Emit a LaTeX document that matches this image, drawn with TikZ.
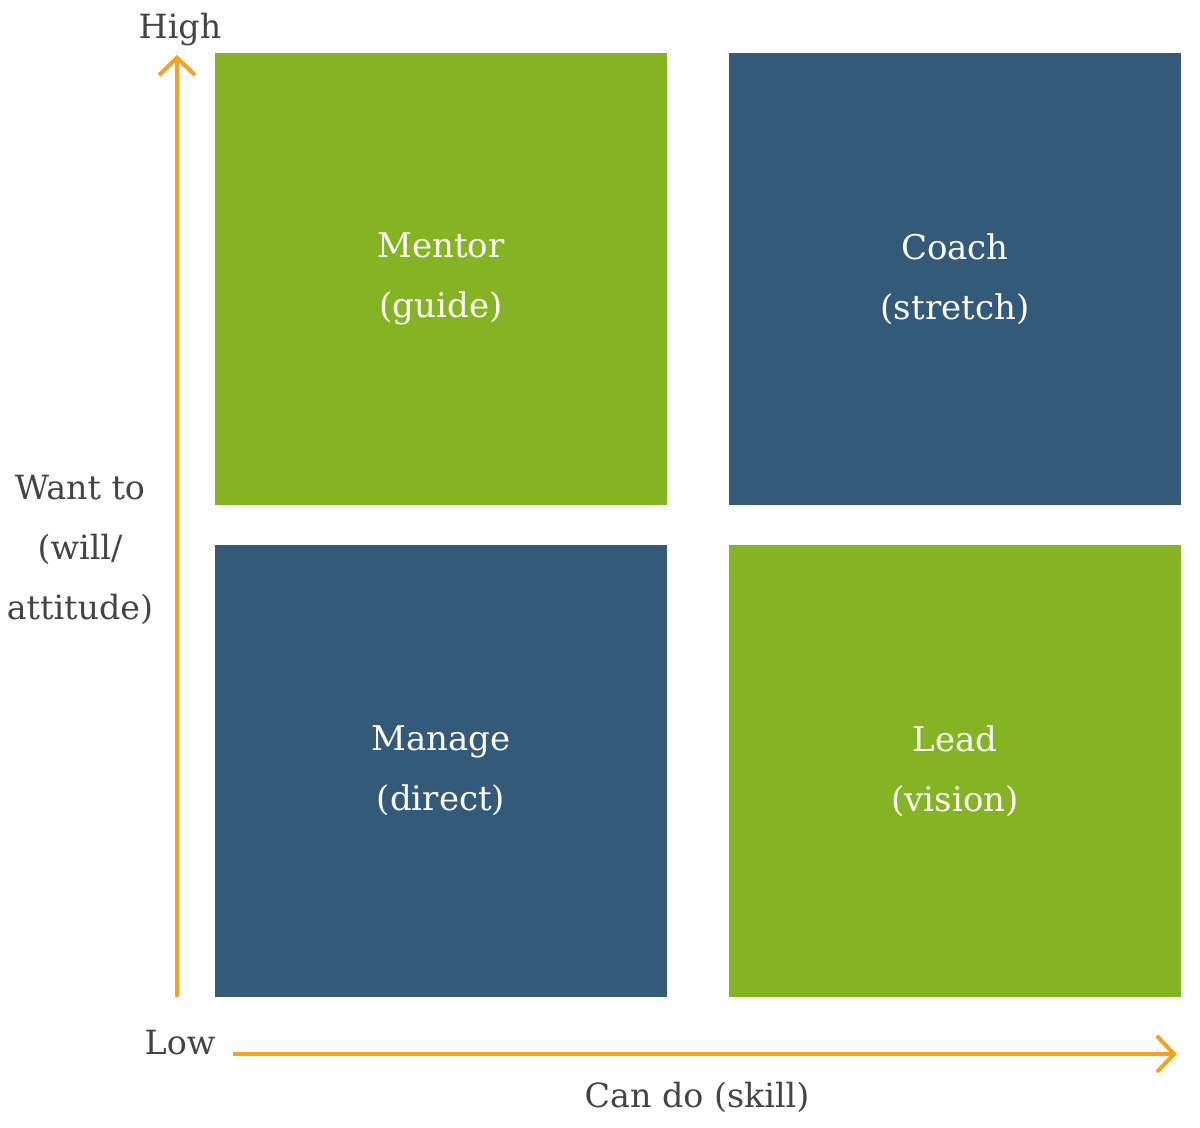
\documentclass[tikz,border=0pt]{standalone}
\usepackage{fontspec}
\setmainfont{DejaVu Serif}
\usetikzlibrary{arrows.meta}
\definecolor{qgreen}{RGB}{132,180,34}
\definecolor{qblue}{RGB}{51,90,121}
\definecolor{qorange}{RGB}{247,161,31}
\definecolor{qtext}{RGB}{68,68,68}
\begin{document}
\begin{tikzpicture}[x=0.75pt,y=-0.75pt,
  quad/.style={minimum width=339pt,minimum height=339pt,inner sep=0pt,outer sep=0pt,
    text=white,align=center,font=\fontsize{25.5}{45}\selectfont},
  axislabel/.style={text=qtext,align=center,font=\fontsize{25}{45}\selectfont,inner sep=0pt},
  axis/.style={draw=qorange,line width=3pt,-{Straight Barb[length=13pt,width=27pt,line width=3pt]}}]
\useasboundingbox (0,0) rectangle (1200,1128);
\node[quad,fill=qgreen] (mentor) at (441,279) {Mentor\\(guide)};
\node[quad,fill=qblue] (coach) at (955,279) {Coach\\(stretch)};
\node[quad,fill=qblue] (manage) at (441,771) {Manage\\(direct)};
\node[quad,fill=qgreen] (lead) at (955,771) {Lead\\(vision)};
\coordinate (yb) at (177,997);
\coordinate (yt) at (177,55);
\coordinate (xl) at (233,1054);
\coordinate (xr) at (1177,1054);
\draw[axis] (yb) -- (yt);
\draw[axis] (xl) -- (xr);
\node[axislabel] (high) at (180,30) {High};
\node[axislabel] (low) at (180,1043) {Low};
\node[axislabel] (want) at (80,550) {Want to\\(will/\\attitude)};
\node[axislabel] (cando) at (697,1097) {Can do (skill)};
\end{tikzpicture}
\end{document}
